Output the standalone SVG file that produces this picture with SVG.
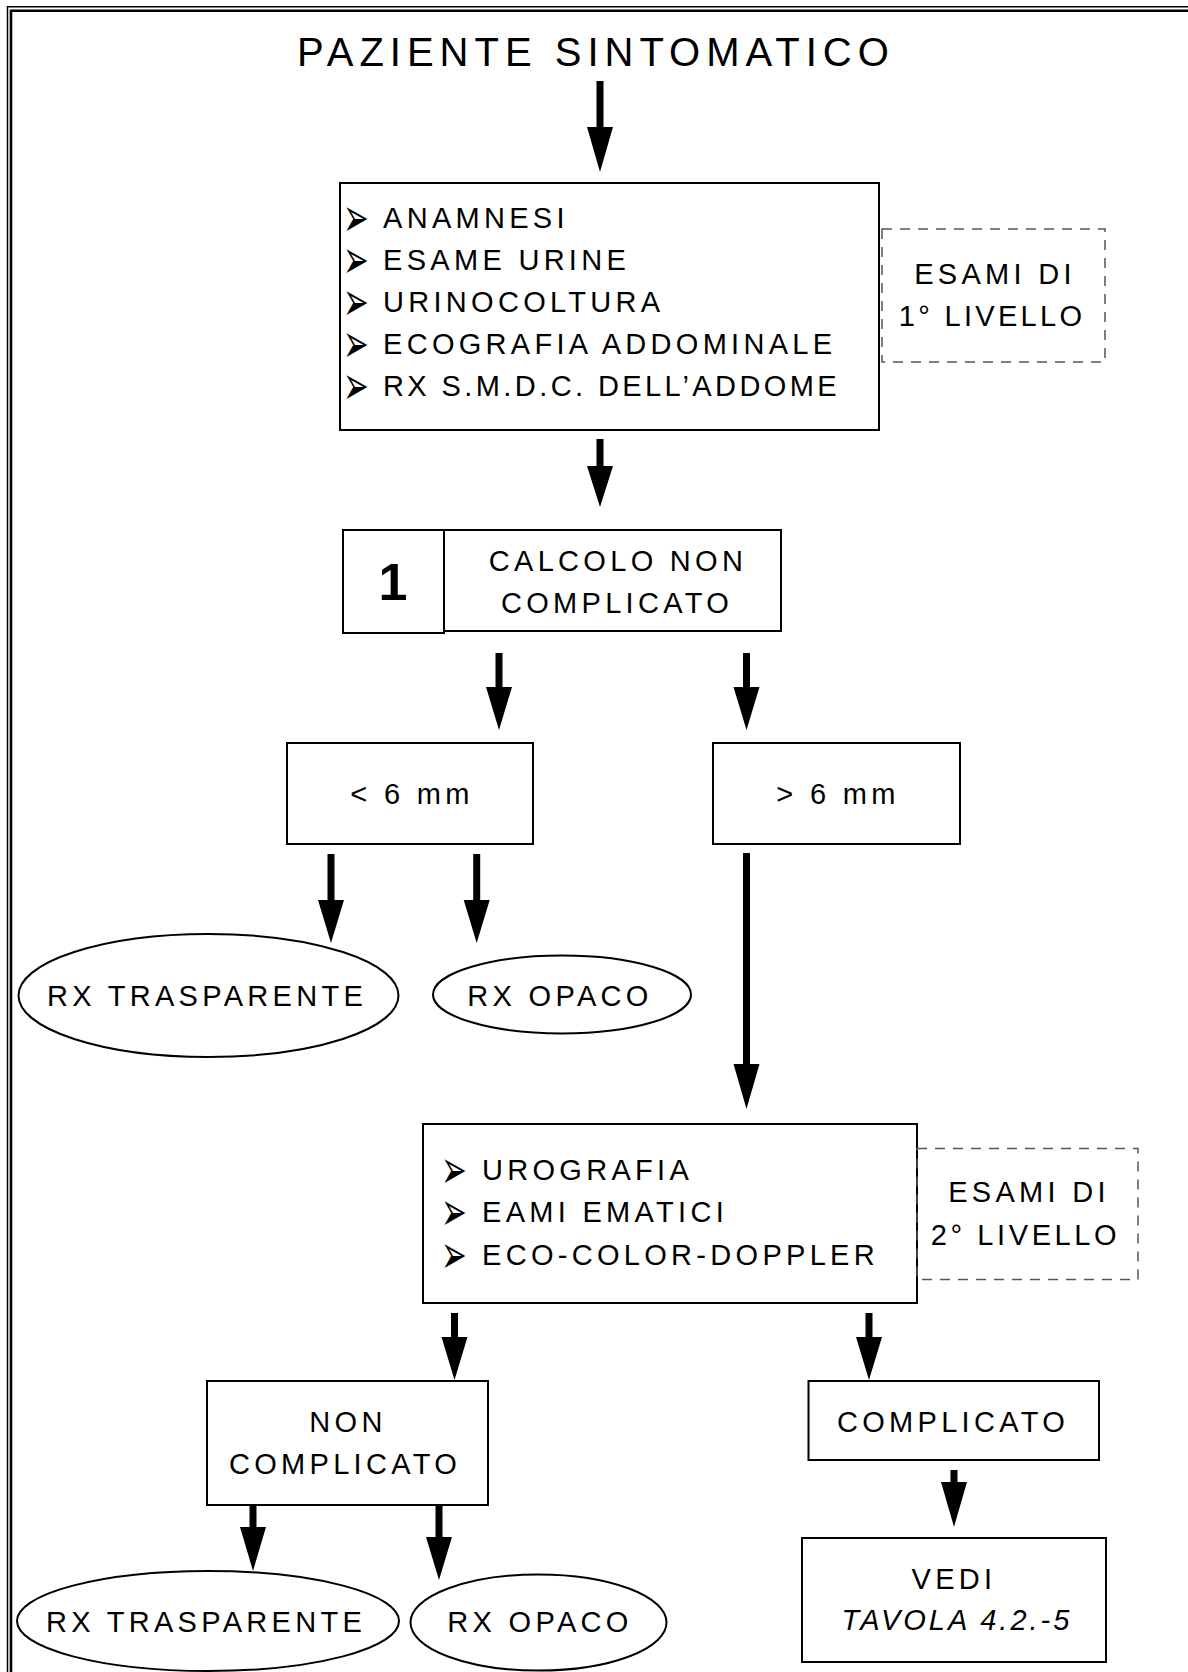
<svg xmlns="http://www.w3.org/2000/svg" width="1188" height="1672" viewBox="0 0 1188 1672">
<style>
.t{font-family:"Liberation Sans",Arial,sans-serif;font-size:29px;letter-spacing:4.3px;fill:#000}
.c{text-anchor:middle}
.b{font-family:"DejaVu Sans",sans-serif;font-size:54px;fill:#000}
.box{fill:#fff;stroke:#000;stroke-width:2}
.dash{fill:none;stroke:#555;stroke-width:1.5;stroke-dasharray:10 8}
.arr{fill:#000;stroke:none}
</style>
<rect width="1188" height="1672" fill="#fff"/>
<g id="frame" fill="none" stroke="#000">
<path d="M7.5 1672 V6.8 H1188" stroke-width="1.5"/>
<path d="M11 1672 V10.8 H1188" stroke-width="2.6"/>
</g>
<g id="title"><text class="t" x="297" y="66" style="font-size:40px;letter-spacing:6px">PAZIENTE SINTOMATICO</text></g>
<g id="esami1">
<rect class="box" x="340" y="183" width="539" height="247"/>
<text class="b" transform="translate(343,235.5) scale(0.57,1)">➢</text><text class="t" x="383" y="228">ANAMNESI</text>
<text class="b" transform="translate(343,277.5) scale(0.57,1)">➢</text><text class="t" x="383" y="270">ESAME URINE</text>
<text class="b" transform="translate(343,319.5) scale(0.57,1)">➢</text><text class="t" x="383" y="312">URINOCOLTURA</text>
<text class="b" transform="translate(343,361.5) scale(0.57,1)">➢</text><text class="t" x="383" y="354">ECOGRAFIA ADDOMINALE</text>
<text class="b" transform="translate(343,403.5) scale(0.57,1)">➢</text><text class="t" x="383" y="396" textLength="458" lengthAdjust="spacing">RX S.M.D.C. DELL’ADDOME</text>
</g>
<g id="livello1">
<rect class="dash" x="882" y="229" width="223" height="133"/>
<text class="t c" x="995" y="283.5">ESAMI DI</text>
<text class="t c" x="992" y="326" style="letter-spacing:3.3px">1° LIVELLO</text>
</g>
<g id="calcolo">
<rect class="box" x="444" y="530" width="337" height="101"/>
<rect class="box" x="343" y="530" width="101" height="103"/>
<text x="393" y="600" style="font-family:'Liberation Sans',Arial,sans-serif;font-size:52px;font-weight:bold;text-anchor:middle">1</text>
<text class="t c" x="618" y="571">CALCOLO NON</text>
<text class="t c" x="617" y="613">COMPLICATO</text>
</g>
<g id="minore">
<rect class="box" x="287" y="743" width="246" height="101"/>
<text class="t c" x="412" y="804">&lt; 6 mm</text>
</g>
<g id="maggiore">
<rect class="box" x="713" y="743" width="247" height="101"/>
<text class="t c" x="838" y="804">&gt; 6 mm</text>
</g>
<g id="rxtrasp1">
<ellipse class="box" cx="208.5" cy="995.5" rx="190" ry="61.5"/>
<text class="t c" x="207" y="1006">RX TRASPARENTE</text>
</g>
<g id="rxopaco1">
<ellipse class="box" cx="562" cy="994.5" rx="129" ry="39"/>
<text class="t c" x="560" y="1006">RX OPACO</text>
</g>
<g id="esami2">
<rect class="box" x="423" y="1124" width="494" height="179"/>
<text class="b" transform="translate(441,1187.5) scale(0.57,1)">➢</text><text class="t" x="482" y="1180">UROGRAFIA</text>
<text class="b" transform="translate(441,1229.5) scale(0.57,1)">➢</text><text class="t" x="482" y="1222">EAMI EMATICI</text>
<text class="b" transform="translate(441,1272.5) scale(0.57,1)">➢</text><text class="t" x="482" y="1265">ECO-COLOR-DOPPLER</text>
</g>
<g id="livello2">
<rect class="dash" x="917" y="1148.5" width="221" height="131"/>
<text class="t c" x="1029" y="1202">ESAMI DI</text>
<text class="t c" x="1025.5" y="1244.5" style="letter-spacing:3.6px">2° LIVELLO</text>
</g>
<g id="noncompl">
<rect class="box" x="207" y="1381" width="281" height="124"/>
<text class="t c" x="348" y="1432">NON</text>
<text class="t c" x="345" y="1474">COMPLICATO</text>
</g>
<g id="compl">
<rect class="box" x="808.5" y="1381" width="290.5" height="79"/>
<text class="t c" x="953" y="1432">COMPLICATO</text>
</g>
<g id="vedi">
<rect class="box" x="802" y="1538" width="304" height="124"/>
<text class="t c" x="954" y="1589">VEDI</text>
<text class="t c" x="957" y="1630" font-style="italic" style="letter-spacing:3px">TAVOLA 4.2.-5</text>
</g>
<g id="rxtrasp2">
<ellipse class="box" cx="208" cy="1621" rx="191" ry="50"/>
<text class="t c" x="206" y="1632">RX TRASPARENTE</text>
</g>
<g id="rxopaco2">
<ellipse class="box" cx="538.5" cy="1622.5" rx="128" ry="48"/>
<text class="t c" x="540" y="1632">RX OPACO</text>
</g>
<g id="connectors" class="arr">
<path d="M596.5 81V127H587L600 172L613 127H603.5V81Z"/>
<path d="M596.5 439V466H587L600 507L613 466H603.5V439Z"/>
<path d="M495.5 653V687H486L499 730L512 687H502.5V653Z"/>
<path d="M743 653V687H733.5L746.5 730L759.5 687H750V653Z"/>
<path d="M327.5 854V900H318L331 943L344 900H334.5V854Z"/>
<path d="M473.2 854V900H463.7L476.7 943L489.7 900H480.2V854Z"/>
<path d="M743 853V1064H733.5L746.5 1109L759.5 1064H750V853Z"/>
<path d="M451 1313V1337H441.5L454.5 1380L467.5 1337H458V1313Z"/>
<path d="M865.5 1313V1337H856L869 1380L882 1337H872.5V1313Z"/>
<path d="M950.5 1470V1482H941L954 1527L967 1482H957.5V1470Z"/>
<path d="M249.5 1505V1527H240L253 1571L266 1527H256.5V1505Z"/>
<path d="M435.5 1505V1537H426L439 1580L452 1537H442.5V1505Z"/>
</g>
</svg>
